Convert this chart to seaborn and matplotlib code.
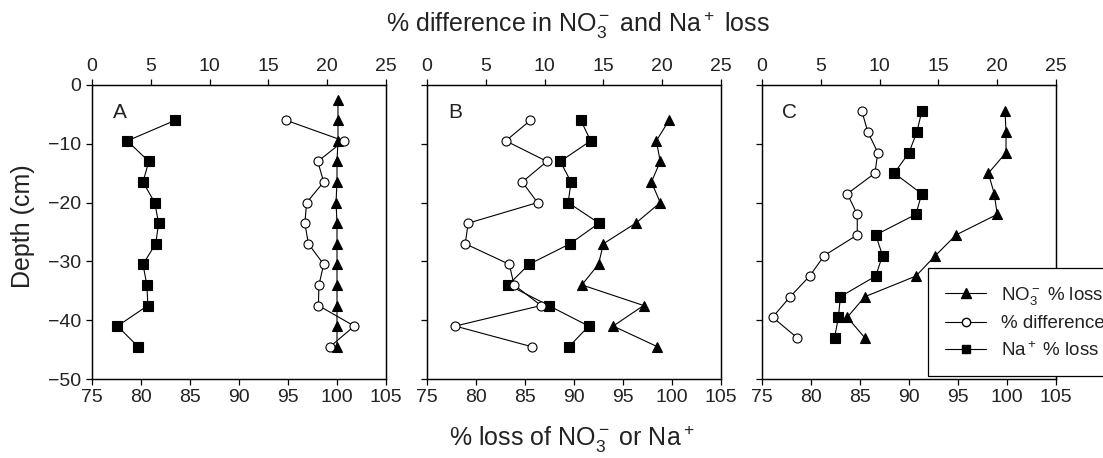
import pandas as pd
import seaborn as sns
import matplotlib.pyplot as plt
from matplotlib.lines import Line2D

# depth of each sample (cm)
depth_a_no3 = [-2.5, -6, -9.5, -13, -16.5, -20, -23.5, -27, -30.5, -34, -37.5, -41, -44.5]
depth_ab = [-6, -9.5, -13, -16.5, -20, -23.5, -27, -30.5, -34, -37.5, -41, -44.5]
depth_c = [-4.5, -8, -11.5, -15, -18.5, -22, -25.5, -29, -32.5, -36, -39.5, -43]

# panel A
a_no3 = [100.1, 100.1, 100.1, 100.0, 100.0, 99.9, 100.0, 100.0, 100.0, 100.0, 100.0, 100.0, 100.0]
a_na = [83.5, 78.6, 80.8, 80.2, 81.4, 81.8, 81.5, 80.2, 80.6, 80.7, 77.6, 79.7]
a_diff = [16.5, 21.4, 19.2, 19.7, 18.25, 18.1, 18.4, 19.7, 19.3, 19.25, 22.3, 20.25]

# panel B
b_no3 = [99.7, 98.4, 98.8, 97.9, 98.8, 96.3, 93.0, 92.5, 90.8, 97.1, 94.0, 98.5]
b_na = [90.7, 91.7, 88.6, 89.7, 89.4, 92.55, 89.6, 85.4, 83.3, 87.4, 91.5, 89.5]
b_diff = [8.8, 6.7, 10.2, 8.1, 9.4, 3.5, 3.25, 7.0, 7.4, 9.7, 2.4, 8.9]

# panel C
c_no3 = [99.8, 99.9, 99.9, 98.1, 98.7, 99.0, 94.8, 92.7, 90.7, 85.5, 83.7, 85.5]
c_na = [91.3, 90.8, 90.0, 88.5, 91.3, 90.7, 86.6, 87.3, 86.6, 83.0, 82.8, 82.4]
c_diff = [8.5, 9.0, 9.85, 9.6, 7.25, 8.1, 8.1, 5.3, 4.05, 2.4, 0.9, 3.0]

panels = [
    ("A", depth_a_no3, a_no3, depth_ab, a_na, depth_ab, a_diff),
    ("B", depth_ab, b_no3, depth_ab, b_na, depth_ab, b_diff),
    ("C", depth_c, c_no3, depth_c, c_na, depth_c, c_diff),
]

loss_ticks = [75, 80, 85, 90, 95, 100, 105]
diff_ticks = [0, 5, 10, 15, 20, 25]
depth_ticks = [0, -10, -20, -30, -40, -50]

sns.set_theme(style="ticks")
plt.rcParams['font.family'] = ['Liberation Sans', 'DejaVu Sans']
plt.rcParams['mathtext.fontset'] = 'custom'
plt.rcParams['mathtext.rm'] = 'Liberation Sans'
plt.rcParams['mathtext.it'] = 'Liberation Sans:italic'
plt.rcParams['axes.edgecolor'] = 'black'
plt.rcParams['axes.linewidth'] = 0.9
plt.rcParams['xtick.color'] = 'black'
plt.rcParams['ytick.color'] = 'black'
plt.rcParams['text.color'] = '#222222'

W, H = 1103, 458
fig = plt.figure(figsize=(W / 100, H / 100), dpi=100)

lefts = [92, 427, 762]
ax_w, ax_top, ax_bot = 294, 85, 379

line_kw = dict(color='black', linewidth=0.8, markeredgecolor='black',
               markeredgewidth=0.8, sort=False, estimator=None)

for i, (name, d_no3, no3, d_na, na, d_diff, diff) in enumerate(panels):
    ax = fig.add_axes([lefts[i] / W, 1 - ax_bot / H, ax_w / W, (ax_bot - ax_top) / H])
    ax2 = ax.twiny()

    sns.lineplot(x=no3, y=d_no3, ax=ax, marker='^', markersize=7.5, **line_kw)
    sns.lineplot(x=na, y=d_na, ax=ax, marker='s', markersize=6.5, **line_kw)
    sns.lineplot(x=diff, y=d_diff, ax=ax2, marker='o', markersize=6.5,
                 markerfacecolor='white', **line_kw)

    ax.set_xlim(75, 105)
    ax.set_ylim(-50, 0)
    ax2.set_xlim(0, 25)
    ax.set_xticks(loss_ticks)
    ax2.set_xticks(diff_ticks)
    ax.set_yticks(depth_ticks)
    ax.set_xlabel('')
    ax.set_ylabel('')
    ax2.set_xlabel('')
    ax.tick_params(labelsize=14, length=4, width=0.9, direction='out',
                   labelcolor='#222222')
    ax2.tick_params(labelsize=14, length=4, width=0.9, direction='out',
                    labelcolor='#222222')
    if i > 0:
        ax.set_yticklabels([])
    for sp in ax.spines.values():
        sp.set_visible(True)
    for sp in ax2.spines.values():
        sp.set_visible(True)
    ax.text(0.095, 0.908, name, transform=ax.transAxes, fontsize=15,
            ha='center', va='center')

fig.text(578 / W, 1 - 32 / H, r'% difference in NO$_3^-$ and Na$^+$ loss',
         ha='center', va='baseline', fontsize=18)
fig.text(572 / W, 1 - 446 / H, r'% loss of NO$_3^-$ or Na$^+$',
         ha='center', va='baseline', fontsize=18)
fig.text(23 / W, 1 - 226 / H, 'Depth (cm)', rotation=90,
         ha='center', va='center', fontsize=18)

handles = [
    Line2D([], [], color='black', lw=0.8, marker='^', markersize=7),
    Line2D([], [], color='black', lw=0.8, marker='o', markersize=6,
           markerfacecolor='white', markeredgecolor='black'),
    Line2D([], [], color='black', lw=0.8, marker='s', markersize=6),
]
labels = [r'NO$_3^-$ % loss', '% difference', r'Na$^+$ % loss']
leg = fig.legend(handles, labels, loc='upper left',
                 bbox_to_anchor=(928 / W, 1 - 268 / H), fontsize=13.5,
                 frameon=True, fancybox=False, edgecolor='black', framealpha=1,
                 handlelength=2.2, handletextpad=0.8, labelspacing=0.45,
                 borderpad=0.9, borderaxespad=0)
leg.get_frame().set_linewidth(0.9)

fig.savefig('out.png', dpi=100)
